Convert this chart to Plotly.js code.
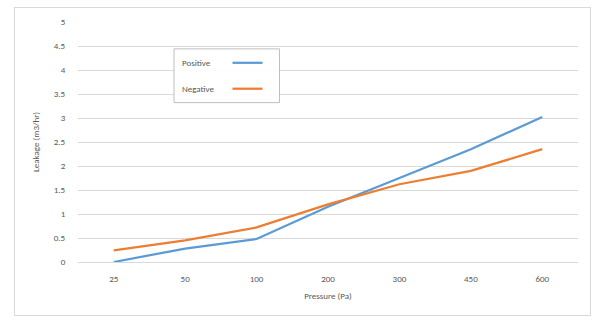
<!DOCTYPE html>
<html><head><meta charset="utf-8">
<script src="https://cdn.plot.ly/plotly-3.0.1.min.js"></script>
<style>
html,body{margin:0;padding:0;background:#fff;width:601px;height:320px;overflow:hidden}
#box{position:absolute;left:14px;top:7px;width:577px;height:309px;border:1px solid #d9d9d9;box-sizing:border-box}
#chart{position:absolute;left:0;top:0;width:575px;height:307px}
</style></head>
<body><div id="box"><div id="chart"></div></div>
<script>
const pressures = ['25','50','100','200','300','450','600'];
const positive = [0.0, 0.28, 0.48, 1.15, 1.75, 2.35, 3.02];
const negative = [0.24, 0.45, 0.72, 1.2, 1.62, 1.9, 2.35];
const yTicks = [0,0.5,1,1.5,2,2.5,3,3.5,4,4.5,5];
const seriesNames = ['Positive','Negative'];
const colors = ['#5b9bd5','#ed7d31'];

const font = {family:'Carlito, Calibri, "Liberation Sans", Arial, sans-serif', size:9, color:'#595959'};
const traces = [
  {x:pressures, y:positive, name:seriesNames[0], type:'scatter', mode:'lines', line:{color:colors[0], width:2.25}},
  {x:pressures, y:negative, name:seriesNames[1], type:'scatter', mode:'lines', line:{color:colors[1], width:2.25}}
];
// custom legend (text left, sample line right), placed in paper coords
const lx0 = 0.192, ly = [0.83, 0.722];
const annotations = seriesNames.map((n,i)=>({xref:'paper', yref:'paper', x:lx0+0.012, y:ly[i], text:n, showarrow:false, xanchor:'left', yanchor:'middle', font:font}));
const shapes = [
  {type:'rect', xref:'paper', yref:'paper', x0:lx0, x1:0.403, y0:0.664, y1:0.888, line:{color:'#bfbfbf', width:1}, fillcolor:'rgba(255,255,255,0.9)', layer:'above'}
].concat(seriesNames.map((n,i)=>({type:'line', xref:'paper', yref:'paper', x0:0.309, x1:0.369, y0:ly[i], y1:ly[i], line:{color:colors[i], width:2.25}, layer:'above'})));

const layout = {
  width:575, height:307,
  margin:{l:63, r:12, t:14, b:53},
  paper_bgcolor:'#fff', plot_bgcolor:'#fff',
  showlegend:false,
  font:font,
  xaxis:{type:'category', range:[-0.5,6.5], showgrid:false, showline:true, linecolor:'#d9d9d9', linewidth:1,
         ticks:'outside', ticklen:8, tickcolor:'rgba(0,0,0,0)', tickfont:font,
         title:{text:'Pressure (Pa)', font:font, standoff:9}},
  yaxis:{range:[0,5], tickvals:yTicks, ticktext:yTicks.map(String), showgrid:true, gridcolor:'#d9d9d9', gridwidth:1,
         zeroline:false, showline:false, ticks:'outside', ticklen:10, tickcolor:'rgba(0,0,0,0)', tickfont:font,
         title:{text:'Leakage (m3/hr)', font:font, standoff:12}},
  annotations:annotations, shapes:shapes
};
Plotly.newPlot('chart', traces, layout, {displayModeBar:false, staticPlot:true});
</script></body></html>
